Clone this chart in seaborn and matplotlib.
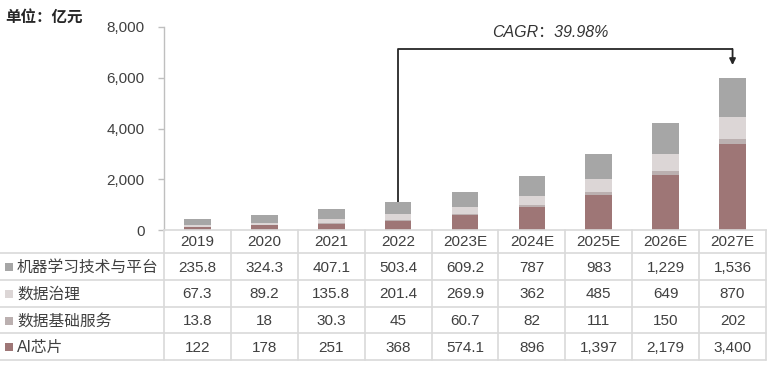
import matplotlib
matplotlib.use("Agg")
import matplotlib.pyplot as plt
import matplotlib.transforms as mtransforms
from matplotlib.patches import Rectangle
from matplotlib.lines import Line2D
import seaborn as sns
import numpy as np

# ---------------- data ----------------
years = ["2019", "2020", "2021", "2022", "2023E", "2024E", "2025E", "2026E", "2027E"]
series_names = ["机器学习技术与平台", "数据治理", "数据基础服务", "AI芯片"]
ml_platform = [235.8, 324.3, 407.1, 503.4, 609.2, 787, 983, 1229, 1536]
data_governance = [67.3, 89.2, 135.8, 201.4, 269.9, 362, 485, 649, 870]
data_services = [13.8, 18, 30.3, 45, 60.7, 82, 111, 150, 202]
ai_chip = [122, 178, 251, 368, 574.1, 896, 1397, 2179, 3400]
yticks = [0, 2000, 4000, 6000, 8000]
unit_label = "单位：亿元"
cagr_label = "CAGR：39.98%"

colors = {
    "机器学习技术与平台": "#A6A6A6",
    "数据治理": "#DCD6D6",
    "数据基础服务": "#BBB0B0",
    "AI芯片": "#9E7676",
}

sns.set_theme(style="white")
plt.rcParams["font.family"] = ["Liberation Sans", "Noto Sans CJK SC", "DejaVu Sans"]
TXT = "#404040"
GRID = "#D9D9D9"

W, H = 777, 367
fig = plt.figure(figsize=(W / 100, H / 100), dpi=100)

ax_left, ax_right, ax_top, ax_bot = 164, 766, 27, 230
ax = fig.add_axes([ax_left / W, (H - ax_bot) / H, (ax_right - ax_left) / W, (ax_bot - ax_top) / H])

# stacked bars: draw cumulative totals from the top layer down
stack_bottom_up = [ai_chip, data_services, data_governance, ml_platform]
names_bottom_up = ["AI芯片", "数据基础服务", "数据治理", "机器学习技术与平台"]
cum = np.cumsum(np.array(stack_bottom_up, dtype=float), axis=0)
for i in range(len(stack_bottom_up) - 1, -1, -1):
    sns.barplot(x=years, y=cum[i], order=years, color=colors[names_bottom_up[i]],
                saturation=1, width=0.4, errorbar=None, ax=ax, linewidth=0)

ax.set_xlim(-0.5, len(years) - 0.5)
ax.set_ylim(0, 8000)
ax.set_yticks(yticks)
ax.set_yticklabels([f"{v:,}" for v in yticks], fontsize=11, color=TXT)
ax.tick_params(axis="y", left=True, length=4, width=1, color="#BFBFBF", pad=10)
ax.tick_params(axis="x", bottom=False, labelbottom=False)
ax.set_xlabel("")
ax.set_ylabel("")
for s in ["top", "right"]:
    ax.spines[s].set_visible(False)
ax.spines["left"].set_color("#BFBFBF")
ax.spines["bottom"].set_color(GRID)
ax.spines["left"].set_linewidth(1)
ax.spines["bottom"].set_linewidth(1.2)

# CAGR connector arrow (annotation)
totals = cum[-1]
y_line = 7130
ax.plot([3, 3, 8], [totals[3], y_line, y_line], color="#262626", lw=1.3, solid_capstyle="butt", clip_on=False)
ax.annotate("", xy=(8, 6500), xytext=(8, y_line),
            arrowprops=dict(arrowstyle="-|>", color="#262626", lw=1.3, mutation_scale=9, shrinkA=0, shrinkB=0))
ax.text(5.27, 7800, cagr_label, ha="center", va="center", fontsize=11.5, style="italic", color="#333333")

# ---------------- table ----------------
tab = fig.add_axes([0, 0, 1, 1])
tab.set_xlim(0, W)
tab.set_ylim(H, 0)
tab.axis("off")
tr = mtransforms.blended_transform_factory(ax.transData, tab.transData)

fig.text(5 / W, 1 - 17 / H, unit_label, ha="left", va="center", fontsize=11.2, fontweight="bold", color="#262626")

row_lines = [253, 280, 307, 333, 360]
for y in row_lines:
    tab.add_line(Line2D([0, ax_right], [y, y], color=GRID, lw=1.2))
for k in range(len(years) + 1):
    tab.add_line(Line2D([k - 0.5, k - 0.5], [ax_bot, row_lines[-1]], color=GRID, lw=1.2, transform=tr))

# year header
for k, yr in enumerate(years):
    tab.text(k, (ax_bot + row_lines[0]) / 2 + 1, yr, ha="center", va="center", fontsize=11, color=TXT, transform=tr)

def fmt(v):
    if float(v).is_integer():
        return f"{v:,.0f}"
    return f"{v:,.1f}"

table_rows = [ml_platform, data_governance, data_services, ai_chip]
for r, (name, vals) in enumerate(zip(series_names, table_rows)):
    yc = (row_lines[r] + row_lines[r + 1]) / 2 + 1
    tab.add_patch(Rectangle((5, yc - 4.5), 8, 8, color=colors[name], lw=0))
    tab.text(17, yc, name, ha="left", va="center", fontsize=11.3, color=TXT)
    for k, v in enumerate(vals):
        tab.text(k, yc, fmt(v), ha="center", va="center", fontsize=11, color=TXT, transform=tr)

fig.savefig("out.png", dpi=100)
